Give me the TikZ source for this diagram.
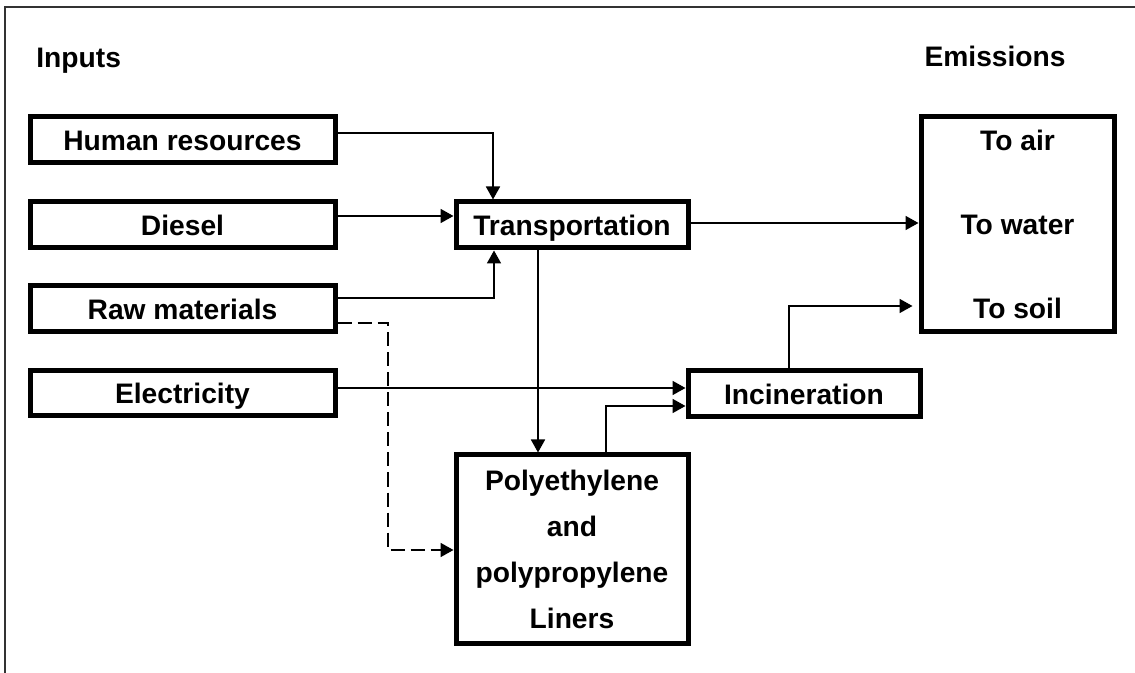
\documentclass[tikz,border=0pt]{standalone}
\usepackage{fontspec}
\setmainfont{Liberation Sans}
\usetikzlibrary{arrows.meta}
\begin{document}
\begin{tikzpicture}[x=0.5pt,y=-0.5pt,
  box/.style={draw, line width=2.5pt, inner sep=0pt,
    font=\bfseries\fontsize{14.1}{17}\selectfont, align=center},
  oneline/.style={box, text height=10.2pt, text depth=0pt},
  flow/.style={line width=0.9pt, -{Triangle[length=6.5pt,width=7pt]}},
  heading/.style={font=\bfseries\fontsize{14.1}{17}\selectfont, inner sep=0pt}
]
\useasboundingbox (0,0) rectangle (1135,673);
% frame edges
\draw[line width=0.8pt, black!80] (5,680) -- (5,7) -- (1140,7);

% headings
\node[heading, anchor=base west] (inputs) at (36,68) {Inputs};
\node[heading, anchor=base east] (emissions) at (1066,67) {Emissions};

% input boxes
\node[oneline, minimum width=152.5pt, minimum height=23pt] (hr) at (182.5,140) {Human resources};
\node[oneline, minimum width=152.5pt, minimum height=23pt] (diesel) at (182.5,225) {Diesel};
\node[oneline, minimum width=152.5pt, minimum height=23pt] (raw) at (182.5,309) {Raw materials};
\node[oneline, minimum width=152.5pt, minimum height=22.5pt] (elec) at (182.5,393.5) {Electricity};

% process boxes
\node[oneline, minimum width=116pt, minimum height=23pt] (trans) at (572,225) {Transportation};
\node[oneline, minimum width=116pt, minimum height=23pt] (incin) at (804,394) {Incineration};
\node[box, minimum width=116pt, minimum height=94pt,
  font=\bfseries\fontsize{14.1}{23}\selectfont] (poly) at (572,549)
  {Polyethylene\\and\\polypropylene\\Liners};

% emissions box
\node[box, minimum width=96.5pt, minimum height=107.5pt,
  font=\bfseries\fontsize{14.1}{42}\selectfont] (emis) at (1017.5,224.5)
  {\rule{0pt}{0pt}To air\\To water\\To soil};

% routing points
\coordinate (hrbend) at (493,133);
\coordinate (dieselrow) at (0,216);
\coordinate (rawbend) at (494,298);
\coordinate (dashtop) at (388,323);
\coordinate (dashbot) at (388,550);
\coordinate (elecrow) at (0,388);
\coordinate (tpcol) at (538,0);
\coordinate (pibend) at (606,406);
\coordinate (terow) at (0,223);
\coordinate (iebend) at (789,306);

% connectors
\draw[flow] (hr.east |- hrbend) -- (hrbend) -- (hrbend |- trans.north);
\draw[flow] (diesel.east |- dieselrow) -- (trans.west |- dieselrow);
\draw[flow] (raw.east |- rawbend) -- (rawbend) -- (rawbend |- trans.south);
\draw[flow, dash pattern=on 7pt off 3pt] (raw.east |- dashtop) -- (dashtop) -- (dashbot) -- (poly.west |- dashbot);
\draw[flow] (elec.east |- elecrow) -- (incin.west |- elecrow);
\draw[flow] (trans.south -| tpcol) -- (poly.north -| tpcol);
\draw[flow] (poly.north -| pibend) -- (pibend) -- (incin.west |- pibend);
\draw[flow] (trans.east |- terow) -- (emis.west |- terow);
\draw[flow, shorten >=3pt] (incin.north -| iebend) -- (iebend) -- (emis.west |- iebend);
\end{tikzpicture}
\end{document}
